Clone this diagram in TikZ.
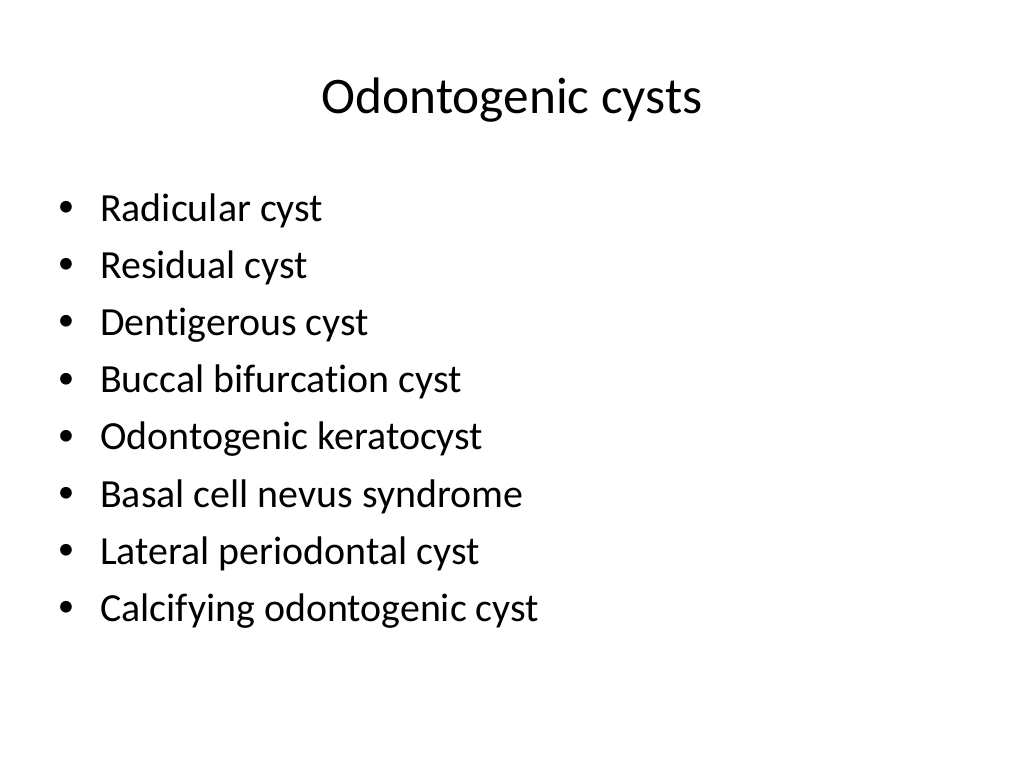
\documentclass[tikz,border=0pt]{standalone}
\usepackage{fontspec}
\setmainfont[Ligatures={NoCommon}]{Carlito}
\begin{document}
\begin{tikzpicture}[x=1pt,y=-1pt,
  titletext/.style={anchor=base,inner sep=0pt,font=\fontsize{51.3}{56}\selectfont},
  itemtext/.style={anchor=base west,inner sep=0pt,font=\fontsize{39.9}{45}\selectfont},
  bul/.style={anchor=base,inner sep=0pt,font=\fontsize{33}{36}\selectfont}]
\useasboundingbox[fill=white] (0,0) rectangle (1024,768);
\node[titletext] (title) at (512,113) {Odontogenic cysts};
\foreach \t [count=\i from 0] in {Radicular cyst,Residual cyst,Dentigerous cyst,Buccal bifurcation cyst,Odontogenic keratocyst,Basal cell nevus syndrome,Lateral periodontal cyst,Calcifying odontogenic cyst}{
  \node[bul] (b\i) at (66,216.5+57.2*\i) {•};
  \node[itemtext] (t\i) at (100,221+57.2*\i) {\t};
}
\end{tikzpicture}
\end{document}
